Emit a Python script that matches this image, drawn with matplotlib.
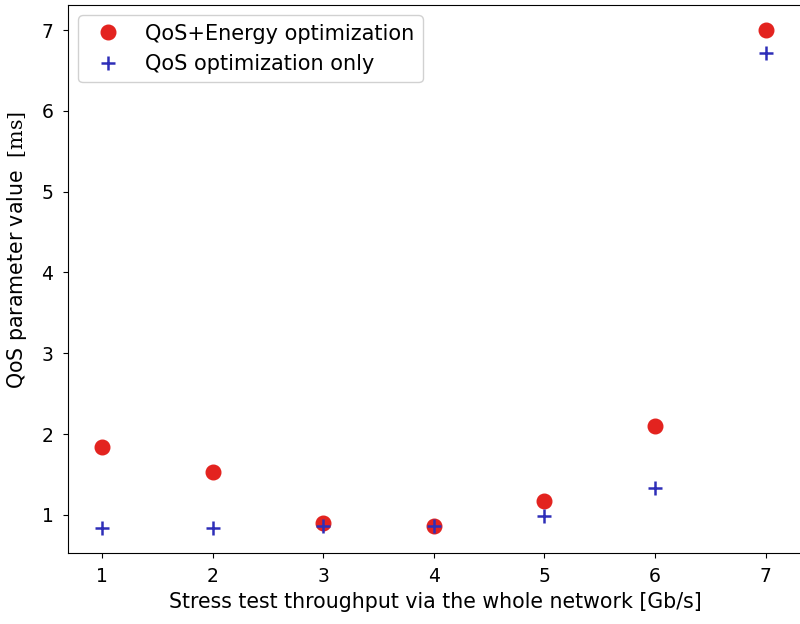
import matplotlib
matplotlib.use('Agg')
import matplotlib.pyplot as plt

# data
throughput = [1, 2, 3, 4, 5, 6, 7]
qos_energy = [1.84, 1.53, 0.90, 0.86, 1.17, 2.10, 7.00]
qos_only   = [0.84, 0.84, 0.86, 0.86, 0.99, 1.33, 6.72]

plt.rcParams['mathtext.fontset'] = 'dejavuserif'

fig = plt.figure(figsize=(8, 6.24), dpi=100)
# right spine falls just outside the canvas, as in the cropped original
ax = fig.add_axes([0.085, 0.114, 0.919, 0.878])

ax.plot(throughput, qos_energy, 'o', color='#e3231f', markersize=10.5,
        label='QoS+Energy optimization')
ax.plot(throughput, qos_only, '+', color='#2e2eb8', markersize=9.5,
        markeredgewidth=1.8, label='QoS optimization only')

ax.set_xlim(0.69, 7.34)
ax.set_ylim(0.53, 7.31)
ax.set_xticks(throughput)
ax.tick_params(labelsize=13.5, pad=7)
ax.set_xlabel('Stress test throughput via the whole network [Gb/s]', fontsize=14.8)
ax.set_ylabel(r'QoS parameter value  $\mathrm{[ms]}$', fontsize=14.8)
ax.yaxis.set_label_coords(-0.053, 0.553)
ax.legend(loc='upper left', fontsize=15, framealpha=0.9)

fig.savefig('out.png', dpi=100)
